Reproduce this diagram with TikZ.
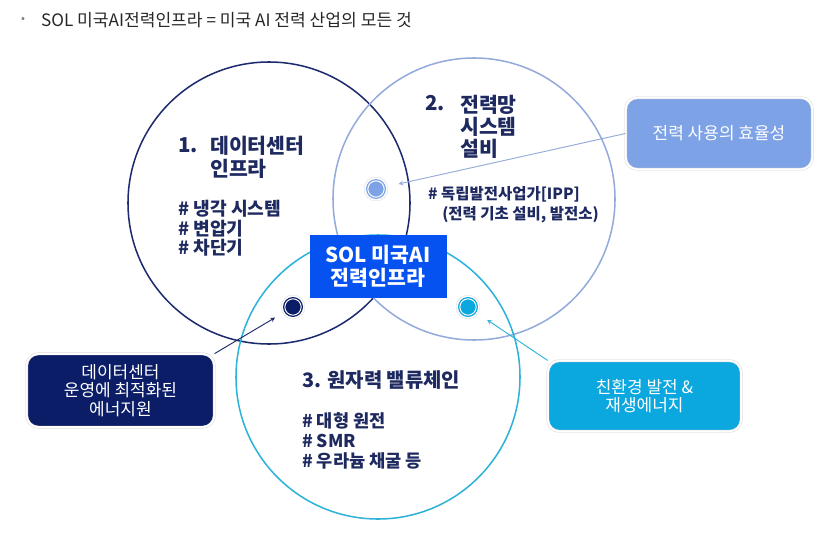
\documentclass[tikz,border=0pt]{standalone}
\usepackage{fontspec}
\setmainfont{Noto Sans CJK KR}
\usepackage{tikz}
\usepackage{xcolor}
\definecolor{navyline}{HTML}{1C2A6E}
\definecolor{periline}{HTML}{94AADB}
\definecolor{cyanline}{HTML}{2DB2D9}
\definecolor{solblue}{HTML}{0652F0}
\definecolor{effblue}{HTML}{7EA2E6}
\definecolor{navyfill}{HTML}{0B1D66}
\definecolor{cyanfill}{HTML}{0BA7DF}
\definecolor{inktext}{HTML}{1E2960}

\begin{document}
\begin{tikzpicture}[
    x=0.03cm, y=-0.03cm,
    venn/.style={circle, draw=#1, line width=1.3pt, inner sep=0},
    dot/.style={circle, draw=black!12, line width=0.4pt, fill=white, minimum size=7.2mm, inner sep=0,
        path picture={
            \fill[#1] (path picture bounding box.center) circle (3mm);
            \draw[white, line width=0.3mm] (path picture bounding box.center) circle (2.45mm);}},
    head/.style={text=inktext, font=\fontsize{17.5}{19.6}\selectfont\bfseries, align=left, inner sep=0},
    tags/.style={text=inktext, font=\fontsize{15.5}{16.6}\selectfont\bfseries, align=left, inner sep=0},
    callout/.style={rounded corners=10pt, fill=#1, draw=black!15, double=white, double distance=1.6pt,
        line width=0.4pt, text=white, align=center, font=\fontsize{14.5}{15.7}\selectfont, inner sep=0},
    link/.style={->, >=stealth, line width=0.8pt, draw=#1}
]
    \useasboundingbox (0,0) rectangle (834,533);

    % title line
    \node[text=gray, font=\fontsize{10}{12}\selectfont] (bullet) at (23,20) {•};
    \node[anchor=west, text=black!85, font=\fontsize{14.6}{17}\selectfont] (title) at (37,20)
        {SOL 미국AI전력인프라 = 미국 AI 전력 산업의 모든 것};

    % three circles
    \node[venn=navyline, minimum size=8.46cm] (dc) at (269,203) {};
    \node[venn=periline, minimum size=8.46cm] (grid) at (474,199) {};
    \node[venn=cyanline, minimum size=8.52cm] (nuke) at (378,377) {};

    % 1. data center
    \node[head, anchor=west] (num1) at (178,145) {1.};
    \node[head, anchor=north west] (head1) at (210,136) {데이터센터\\인프라};
    \node[tags, anchor=north west] (tags1) at (178,200) {\# 냉각 시스템\\\# 변압기\\\# 차단기};

    % 2. power grid
    \node[head, anchor=west] (num2) at (425,103) {2.};
    \node[head, anchor=north west, font=\fontsize{17.5}{19}\selectfont\bfseries] (head2) at (460,94.5)
        {전력망\\시스템\\설비};
    \node[tags, anchor=north west, font=\fontsize{13.2}{17}\selectfont\bfseries] (tags2) at (428,186.5)
        {\# 독립발전사업가[IPP]\\\hspace*{12pt}(전력 기초 설비, 발전소)};

    % 3. nuclear
    \node[head, anchor=west, font=\fontsize{17}{19}\selectfont\bfseries] (head3) at (302,380) {3. 원자력 밸류체인};
    \node[tags, anchor=north west, font=\fontsize{15}{17}\selectfont\bfseries] (tags3) at (302,412.5)
        {\# 대형 원전\\\# SMR\\\# 우라늄 채굴 등};

    % centre box
    \node[fill=solblue, text=white, font=\fontsize{17.5}{19.5}\selectfont\bfseries, align=center,
        minimum width=4.11cm, minimum height=1.89cm, inner sep=0] (sol) at (378,266) {SOL 미국AI\\전력인프라};

    % dots
    \node[dot=navyfill] (dot1) at (293,307) {};
    \node[dot=effblue] (dot2) at (376,189) {};
    \node[dot=cyanfill] (dot3) at (468,307) {};

    % callouts
    \node[callout=effblue, minimum width=5.6cm, minimum height=2.15cm] (eff) at (719,133.5) {전력 사용의 효율성};
    \node[callout=navyfill, minimum width=5.63cm, minimum height=2.2cm] (dcpower) at (120.5,390.5)
        {데이터센터\\운영에 최적화된\\에너지원};
    \node[callout=cyanfill, minimum width=5.8cm, minimum height=2.12cm] (green) at (644.5,396)
        {친환경 발전 \&\\재생에너지};

    \draw[link=periline, shorten >=9.3pt] (eff.west) -- (dot2);
    \draw[link=navyline, shorten >=7.3pt] (dcpower.north east) -- (dot1);
    \draw[link=cyanline, shorten >=9.2pt] (green.north west) -- (dot3);
\end{tikzpicture}
\end{document}
